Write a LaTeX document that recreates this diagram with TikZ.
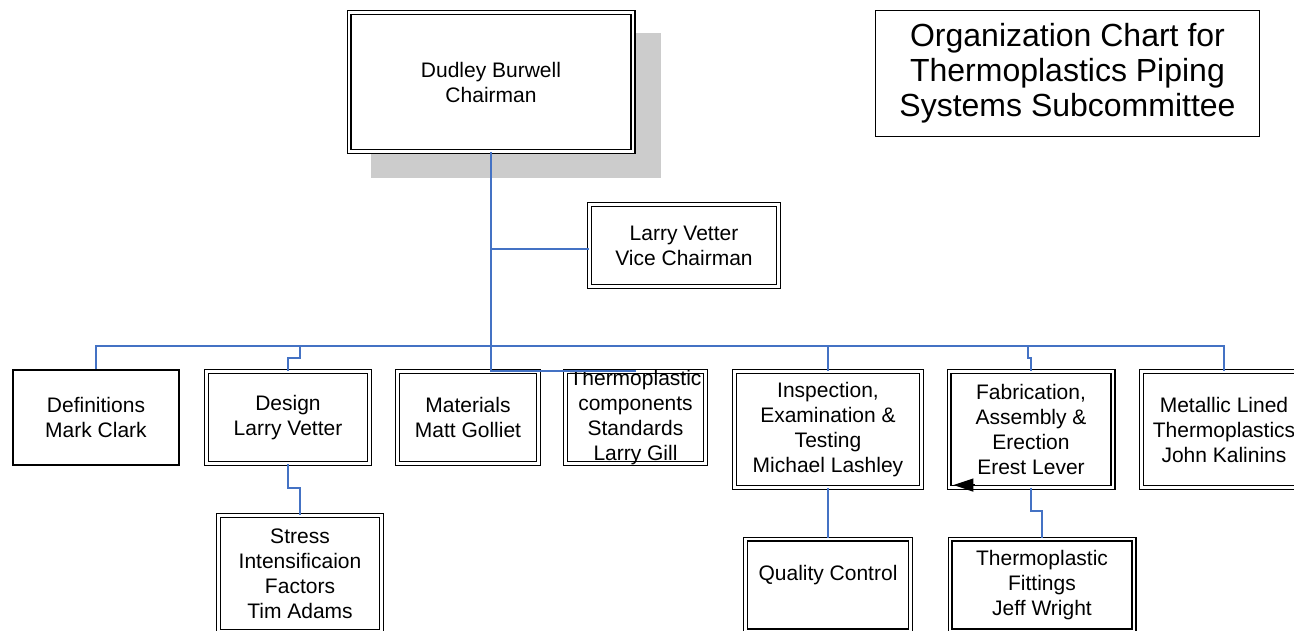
\documentclass[tikz,border=0pt]{standalone}
\usepackage{fontspec}
\setmainfont{Liberation Sans}
\usetikzlibrary{arrows.meta}
\definecolor{linkblue}{RGB}{68,114,196}
\definecolor{shadowgray}{RGB}{204,204,204}

\begin{document}
\begin{tikzpicture}[x=1pt, y=-1pt,
    every node/.style={align=center, inner sep=0pt, font=\fontsize{21}{25}\selectfont},
    single box/.style={draw, line width=1.6pt, fill=white},
    double box/.style={draw, line width=1.4pt, double=white, double distance=2.5pt, fill=white},
    shade box/.style={fill=shadowgray, draw=none},
    link/.style={draw=linkblue, line width=1.5pt, line join=miter}]
\useasboundingbox (0,0) rectangle (1294,631);
\fill[white] (0,0) rectangle (1294,631);
\clip (0,0) rectangle (1294,631);

% top of the chart
\node[shade box, minimum width=290pt, minimum height=145pt] (shade) at (516,105.5) {};
\node[double box, minimum width=283.7pt, minimum height=138.7pt] (chair) at (491,82) {Dudley Burwell\\Chairman};
\node[double box, minimum width=188.7pt, minimum height=81.7pt] (vice) at (684,245.5) {Larry Vetter\\Vice Chairman};
\node[draw, line width=1.2pt, minimum width=383.8pt, minimum height=125.8pt,
      font=\fontsize{32}{35}\selectfont] (title) at (1067.5,73.5)
      {Organization Chart for\\Thermoplastics Piping\\Systems Subcommittee};

% task groups
\node[single box, minimum width=166.4pt, minimum height=95.4pt] (defs) at (96,417.5) {Definitions\\Mark Clark};
\foreach \n/\x/\w/\txt in {design/288/162.7/{Design\\Larry Vetter},
                           mat/468/140.7/{Materials\\Matt Golliet}}{
    \node[double box, minimum width=\w pt, minimum height=91.7pt] (\n) at (\x,417.5) {\txt};}
\node[double box, minimum width=139.7pt, minimum height=91.7pt] (thermo) at (635.5,417.5) {};
\node (thermotext) at (thermo) {Thermoplastic\\components\\Standards\\Larry Gill};
\foreach \n/\x/\w/\txt in {insp/828/186.7/{Inspection,\\Examination \&\\Testing\\Michael Lashley},
                           fab/1031/163.7/{Fabrication,\\Assembly \&\\Erection\\Erest Lever},
                           metal/1224/164.7/{Metallic Lined\\Thermoplastics\\John Kalinins}}{
    \node[double box, minimum width=\w pt, minimum height=115.7pt] (\n) at (\x,429.5) {\txt};}

% lower level
\node[double box, minimum width=162.7pt, minimum height=115.7pt] (sif) at (300,573.5) {Stress\\Intensificaion\\Factors\\Tim Adams};
\node[double box, minimum width=164.7pt, minimum height=91.7pt] (qc) at (828,585) {Quality Control\\\mbox{}};
\node[double box, minimum width=183.7pt, minimum height=91.7pt] (fit) at (1042,585) {Thermoplastic\\Fittings\\Jeff Wright};

% connectors
\coordinate (bus) at (0,346);
\draw[link] (chair.south) -- (chair.south |- mat.north) -- (thermo.north);
\draw[link] (chair.south |- vice.west) ++(0,3.5) -- ([yshift=-3.5pt]vice.west);
\draw[link] (defs.north) |- (metal.north |- bus) -- (metal.north);
\draw[link] (design.north) -- ++(0,-13) -| ([xshift=12pt]design.north |- bus);
\draw[link] (insp.north) -- (insp.north |- bus);
\draw[link] (fab.north) -- ++(0,-13) -| ([xshift=-3pt]fab.north |- bus);
\draw[link] (design.south) -- ++(0,24) -| (sif.north);
\draw[link] (insp.south) -- (qc.north);
\draw[link] (fab.south) -- ++(0,23) -| (fit.north);
\draw[-{Triangle[length=20pt,width=13pt]}, line width=1.5pt]
    ([xshift=27pt,yshift=3pt]fab.south west) -- ([xshift=5pt,yshift=3pt]fab.south west);
\end{tikzpicture}
\end{document}
